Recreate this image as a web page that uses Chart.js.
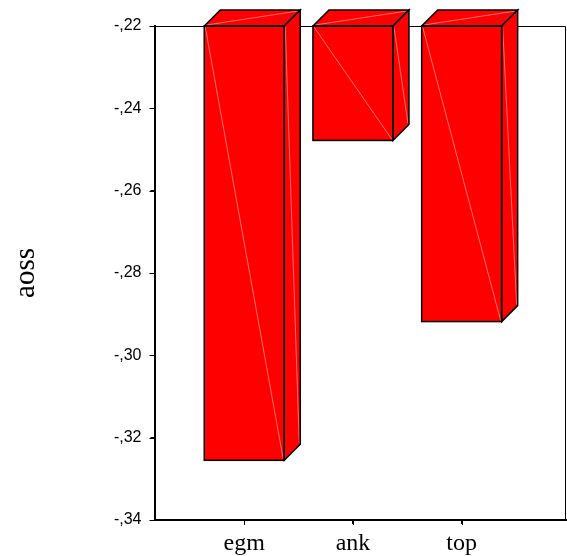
<!DOCTYPE html>
<html><head><meta charset="utf-8">
<script src="https://cdn.jsdelivr.net/npm/chart.js@4/dist/chart.umd.min.js"></script>
<style>html,body{margin:0;padding:0;background:#fff}#wrap{width:567px;height:556px}</style>
</head><body><div id="wrap"><canvas id="c"></canvas></div>
<script>
const categories = ["egm", "ank", "top"];
const values = [-0.3255, -0.2478, -0.2918];
const baseValue = -0.22;
const yTicks = [-0.22, -0.24, -0.26, -0.28, -0.30, -0.32, -0.34];

const DEPTH = 16;
const threeD = {
  id: 'threeD',
  beforeDatasetsDraw(chart) {
    const {ctx, chartArea: a} = chart;
    ctx.save();
    ctx.strokeStyle = '#000'; ctx.lineWidth = 1;
    ctx.beginPath();
    ctx.moveTo(a.left, a.top + 0.5); ctx.lineTo(a.right - 0.5, a.top + 0.5); ctx.lineTo(a.right - 0.5, a.bottom);
    ctx.stroke();
    // tick marks
    const xs = chart.scales.x, ys = chart.scales.y;
    ctx.beginPath();
    xs.ticks.forEach(t => { const px = Math.round(xs.getPixelForValue(t.value)) + 0.5; ctx.moveTo(px, a.bottom); ctx.lineTo(px, a.bottom + 5); });
    ys.ticks.forEach(t => { const py = Math.round(ys.getPixelForValue(t.value)) + 0.5; ctx.moveTo(a.left - 5, py); ctx.lineTo(a.left, py); });
    ctx.stroke();
    ctx.restore();
  },
  afterDatasetsDraw(chart) {
    const {ctx} = chart;
    const meta = chart.getDatasetMeta(0);
    ctx.save();
    meta.data.forEach(bar => {
      const x0 = bar.x - bar.width / 2, x1 = bar.x + bar.width / 2;
      const yt = Math.min(bar.y, bar.base), yb = Math.max(bar.y, bar.base);
      ctx.strokeStyle = 'rgba(255,150,150,0.9)'; ctx.lineWidth = 0.8;
      ctx.beginPath(); ctx.moveTo(x0 + 1, yt + 1); ctx.lineTo(x1 - 1, yb - 1); ctx.stroke();
      ctx.fillStyle = '#ff0000';
      ctx.beginPath();
      ctx.moveTo(x0, yt); ctx.lineTo(x0 + DEPTH, yt - DEPTH); ctx.lineTo(x1 + DEPTH, yt - DEPTH); ctx.lineTo(x1, yt); ctx.closePath();
      ctx.fill();
      ctx.strokeStyle = 'rgba(255,150,150,0.9)'; ctx.lineWidth = 0.8;
      ctx.beginPath(); ctx.moveTo(x0 + 2, yt - 1); ctx.lineTo(x1 + DEPTH - 2, yt - DEPTH + 1); ctx.stroke();
      ctx.strokeStyle = '#000'; ctx.lineWidth = 1.5;
      ctx.beginPath();
      ctx.moveTo(x0, yt); ctx.lineTo(x0 + DEPTH, yt - DEPTH); ctx.lineTo(x1 + DEPTH, yt - DEPTH); ctx.lineTo(x1, yt); ctx.closePath();
      ctx.stroke();
      ctx.fillStyle = '#ff0000';
      ctx.beginPath();
      ctx.moveTo(x1, yt); ctx.lineTo(x1 + DEPTH, yt - DEPTH); ctx.lineTo(x1 + DEPTH, yb - DEPTH); ctx.lineTo(x1, yb); ctx.closePath();
      ctx.fill();
      ctx.strokeStyle = 'rgba(255,150,150,0.9)'; ctx.lineWidth = 0.8;
      ctx.beginPath(); ctx.moveTo(x1 + 1, yt + 1); ctx.lineTo(x1 + DEPTH - 1, yb - DEPTH - 1); ctx.stroke();
      ctx.strokeStyle = '#000'; ctx.lineWidth = 1.5;
      ctx.beginPath();
      ctx.moveTo(x1, yt); ctx.lineTo(x1 + DEPTH, yt - DEPTH); ctx.lineTo(x1 + DEPTH, yb - DEPTH); ctx.lineTo(x1, yb); ctx.closePath();
      ctx.stroke();
      ctx.strokeRect(x0, yt, x1 - x0, yb - yt);
    });
    ctx.restore();
  }
};

new Chart(document.getElementById('c'), {
  type: 'bar',
  data: {
    datasets: [{
      data: categories.map((c, i) => ({x: i + 1, y: [baseValue, values[i]]})),
      backgroundColor: '#ff0000',
      borderWidth: 0,
      barThickness: 80,
      clip: false
    }]
  },
  options: {
    responsive: true, maintainAspectRatio: false, animation: false,
    layout: {padding: {top: 26, right: 1, left: 0, bottom: 0}},
    plugins: {legend: {display: false}, tooltip: {enabled: false}},
    scales: {
      x: {
        type: 'linear', min: 0.174, max: 3.96, offset: false,
        afterBuildTicks: s => { s.ticks = [1, 2, 3].map(v => ({value: v})); },
        afterFit: s => { s.height = 36; },
        grid: {drawOnChartArea: false, drawTicks: true, tickLength: 4, tickWidth: 1, color: '#000', offset: false},
        border: {display: true, color: '#000', width: 2},
        ticks: {
          callback: v => categories[v - 1],
          color: '#000', padding: 5, autoSkip: false, maxRotation: 0,
          font: {family: 'Liberation Serif', size: 24}
        }
      },
      y: {
        min: -0.34, max: -0.22,
        afterBuildTicks: s => { s.ticks = yTicks.map(v => ({value: v})); },
        afterFit: s => { s.width = 154.5; },
        grid: {drawOnChartArea: false, drawTicks: true, tickLength: 4, color: '#000'},
        border: {display: true, color: '#000', width: 2},
        ticks: {
          callback: v => (v < 0 ? '-' : '') + ',' + Math.round(Math.abs(v) * 100).toString().padStart(2, '0'),
          color: '#000', padding: 9,
          font: {family: 'Liberation Sans', size: 16}
        },
        title: {
          display: true, text: 'aoss', color: '#000',
          font: {family: 'Liberation Serif', size: 29, weight: 'normal'},
          padding: {top: 9, bottom: 0}
        }
      }
    }
  },
  plugins: [threeD]
});
</script></body></html>
